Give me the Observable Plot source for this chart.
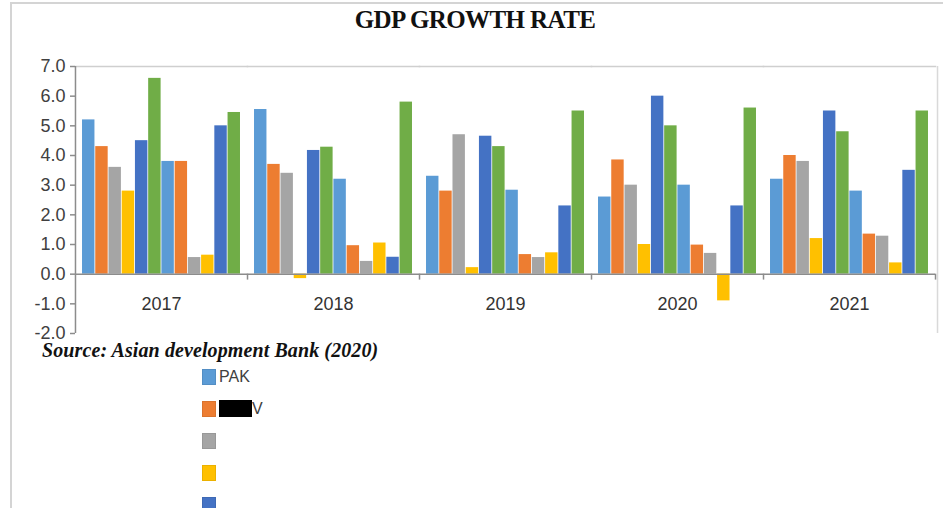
<!DOCTYPE html>
<html>
<head>
<meta charset="utf-8">
<script src="https://cdn.jsdelivr.net/npm/d3@7"></script>
<script src="https://cdn.jsdelivr.net/npm/@observablehq/plot@0.6"></script>
<style>
  html, body { margin: 0; padding: 0; background: #fff; }
  #wrap { position: relative; width: 943px; height: 508px; overflow: hidden; background: #fff; }
  #outer { position: absolute; left: 10px; top: 2px; width: 960px; height: 560px; border: 2px solid #d4d4d4; box-sizing: border-box; }
  #chart { position: absolute; left: 0; top: 0; }
  #title { position: absolute; left: 0; width: 950px; top: 7px; text-align: center; font-family: "Liberation Serif", "DejaVu Serif", serif; font-weight: bold; font-size: 25px; letter-spacing: -0.6px; color: #111; line-height: 1; }
  #source { position: absolute; left: 42px; top: 340px; font-family: "Liberation Serif", serif; font-style: italic; font-weight: bold; font-size: 20px; letter-spacing: 0.1px; color: #111; line-height: 1; white-space: nowrap; }
  #legend { position: absolute; left: 202px; top: 369px; font-family: "Liberation Sans", sans-serif; font-size: 16px; color: #404040; }
  .item { height: 32px; display: flex; align-items: flex-start; }
  .sw { width: 14px; height: 16px; margin-right: 3px; box-sizing: border-box; border: 1px solid rgba(0,0,0,0.08); }
  .lab { line-height: 16px; }
  .redact { background: #000; color: #000; }
</style>
</head>
<body>
<div id="wrap">
  <div id="outer"></div>
  <div id="chart"></div>
  <div id="title">GDP GROWTH RATE</div>
  <div id="source">Source: Asian development Bank (2020)</div>
  <div id="legend"></div>
</div>
<script>
// ---- data ----
const years = ["2017", "2018", "2019", "2020", "2021"];
const seriesKeys = ["S1","S2","S3","S4","S5","S6","S7","S8","S9","S10","S11","S12"];
const legendLabels = ["PAK", "NEPV", "", "", "", "", "", "", "", "", "", ""];
const seriesColors = ["#5B9BD5","#ED7D31","#A5A5A5","#FFC000","#4472C4","#70AD47",
                      "#5B9BD5","#ED7D31","#A5A5A5","#FFC000","#4472C4","#70AD47"];
const s1  = [5.2, 5.55, 3.3, 2.6, 3.2];
const s2  = [4.3, 3.7, 2.8, 3.85, 4.0];
const s3  = [3.6, 3.4, 4.7, 3.0, 3.8];
const s4  = [2.8, -0.15, 0.22, 1.0, 1.2];
const s5  = [4.5, 4.17, 4.65, 6.0, 5.5];
const s6  = [6.6, 4.28, 4.3, 5.0, 4.8];
const s7  = [3.8, 3.2, 2.83, 3.0, 2.8];
const s8  = [3.8, 0.96, 0.66, 0.98, 1.35];
const s9  = [0.56, 0.43, 0.56, 0.7, 1.28];
const s10 = [0.64, 1.05, 0.72, -0.9, 0.38];
const s11 = [5.0, 0.57, 2.3, 2.3, 3.5];
const s12 = [5.45, 5.8, 5.5, 5.6, 5.5];
const yTicks = [-2, -1, 0, 1, 2, 3, 4, 5, 6, 7];

// ---- build table ----
const seriesValues = [s1,s2,s3,s4,s5,s6,s7,s8,s9,s10,s11,s12];
const rows = [];
years.forEach((yr, yi) => seriesKeys.forEach((k, si) => rows.push({year: yr, series: k, value: seriesValues[si][yi]})));

const W = 943, marginLeft = 74, marginRight = 8;
const step = (W - marginLeft - marginRight) / years.length / (seriesKeys.length + 1);
const axisColor = "#8c8c8c";
const textColor = "#404040";

const chart = Plot.plot({
  width: W,
  height: 345,
  marginTop: 66,
  marginBottom: 12,
  marginLeft,
  marginRight,
  style: {fontFamily: '"Liberation Sans", sans-serif', fontSize: "18px", color: textColor, background: "transparent", overflow: "visible"},
  fx: {domain: years, padding: 0, axis: null},
  x: {domain: seriesKeys, paddingInner: 0, paddingOuter: 0.5, round: false, axis: null},
  y: {domain: [-2, 7], axis: null},
  color: {domain: seriesKeys, range: seriesColors},
  marks: [
    Plot.frame({anchor: "top", stroke: "#cfcfcf", strokeWidth: 1.5}),
    Plot.ruleX([years[years.length - 1]], {fx: d => d, x: () => seriesKeys[seriesKeys.length - 1], dx: step + 2, y1: -2, y2: 7, stroke: "#d9d9d9", strokeWidth: 1.5}),
    Plot.barY(rows, {fx: "year", x: "series", y: "value", fill: "series", insetLeft: 0.4, insetRight: 0.4}),
    Plot.ruleY([0], {stroke: axisColor, strokeWidth: 1.5}),
    Plot.ruleX(years, {fx: d => d, x: () => seriesKeys[seriesKeys.length - 1], dx: step, y1: 0, y2: -0.2, stroke: axisColor, strokeWidth: 1.5}),
    Plot.ruleX([years[0]], {fx: d => d, x: () => seriesKeys[0], dx: -step, y1: -2, y2: 7, stroke: axisColor, strokeWidth: 1.5}),
    Plot.axisY({ticks: yTicks, tickFormat: d => d.toFixed(1), tickSize: 5, tickPadding: 5, label: null, fontSize: 18, stroke: axisColor, strokeWidth: 1.5, fill: textColor}),
    Plot.text(years, {fx: d => d, y: () => -1, text: d => d, fontSize: 18, fill: "#333"})
  ]
});
document.getElementById("chart").appendChild(chart);

// legend
const leg = d3.select("#legend");
seriesKeys.forEach((k, i) => {
  const it = leg.append("div").attr("class", "item");
  it.append("div").attr("class", "sw").style("background", seriesColors[i]);
  const lab = it.append("span").attr("class", "lab");
  if (i === 1) {
    lab.append("span").attr("class", "redact").text(legendLabels[i].slice(0, 3));
    lab.append("span").text(legendLabels[i].slice(3));
  } else {
    lab.text(legendLabels[i]);
  }
});
</script>
</body>
</html>
